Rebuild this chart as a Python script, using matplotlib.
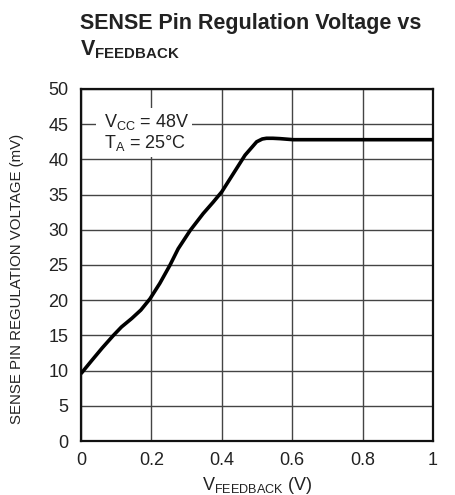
import numpy as np
import matplotlib.pyplot as plt
from matplotlib.patches import Rectangle

# curve
vfb = [0, 0.03, 0.06, 0.092, 0.115, 0.144, 0.17, 0.196, 0.224, 0.253,
       0.276, 0.31, 0.347, 0.375, 0.4, 0.433, 0.466, 0.499, 0.515, 0.527,
       0.545, 0.565, 0.603, 0.707, 0.8, 0.9, 1.0]
vsense = [9.57, 11.4, 13.2, 15.0, 16.2, 17.4, 18.6, 20.2, 22.4, 25.0,
          27.3, 29.9, 32.3, 33.9, 35.4, 38.0, 40.6, 42.5, 42.9, 43.0,
          43.0, 42.95, 42.8, 42.8, 42.8, 42.8, 42.8]

xticks = [0, 0.2, 0.4, 0.6, 0.8, 1]
xticklabels = ["0", "0.2", "0.4", "0.6", "0.8", "1"]
yticks = list(range(0, 51, 5))

plt.rcParams['font.family'] = ['Liberation Sans', 'DejaVu Sans']
plt.rcParams['mathtext.fontset'] = 'custom'
plt.rcParams['mathtext.rm'] = 'Liberation Sans'
plt.rcParams['mathtext.bf'] = 'Liberation Sans:bold'

fig = plt.figure(figsize=(4.56, 4.95), dpi=100)
ax = fig.add_axes([81/456, 1-441/495, 352/456, 352/495])

ax.plot(vfb, vsense, color='black', lw=2.6, zorder=5,
        solid_joinstyle='round', solid_capstyle='butt')

ax.set_xlim(0, 1)
ax.set_ylim(0, 50)
ax.set_xticks(xticks)
ax.set_xticklabels(xticklabels)
ax.set_yticks(yticks)
ax.tick_params(length=0, labelsize=13, colors='#222')
ax.tick_params(axis='y', pad=9)
ax.tick_params(axis='x', pad=8)
ax.grid(True, color='#444', lw=1.0)
ax.set_axisbelow(True)
for s in ax.spines.values():
    s.set_linewidth(1.6)
    s.set_color('#111')

# white box behind the conditions text
ax.add_patch(Rectangle((0.043, 40.4), 0.272, 6.9, facecolor='white',
                       edgecolor='none', zorder=2))
ax.text(0.066, 44.55, r'V$_{\mathregular{CC}}$ = 48V', fontsize=13,
        color='#222', zorder=3, va='baseline')
ax.text(0.066, 41.6, r'T$_{\mathregular{A}}$ = 25°C', fontsize=13,
        color='#222', zorder=3, va='baseline')

ax.set_ylabel('SENSE PIN REGULATION VOLTAGE (mV)', fontsize=10.8,
              color='#222')
ax.yaxis.set_label_coords(-(81-24)/352, 0.46)
ax.set_xlabel(r'V$_{\mathregular{FEEDBACK}}$ (V)', fontsize=13,
              color='#222', labelpad=4)

t1 = fig.text(80/456, 1-29/495, 'SENSE Pin Regulation Voltage vs',
              fontsize=17, fontweight='bold', color='#222', va='baseline')
t2 = fig.text(80/456, 1-55/495, r'V$_{\mathregular{FEEDBACK}}$',
              fontsize=17, fontweight='bold', color='#222', va='baseline')

# shrink the title to the width in the reference
r = fig.canvas.get_renderer()
w = t1.get_window_extent(r).width
t1.set_fontsize(17 * 342 / w)
t2.set_fontsize(17 * 342 / w)

fig.savefig('out.png', dpi=100)
